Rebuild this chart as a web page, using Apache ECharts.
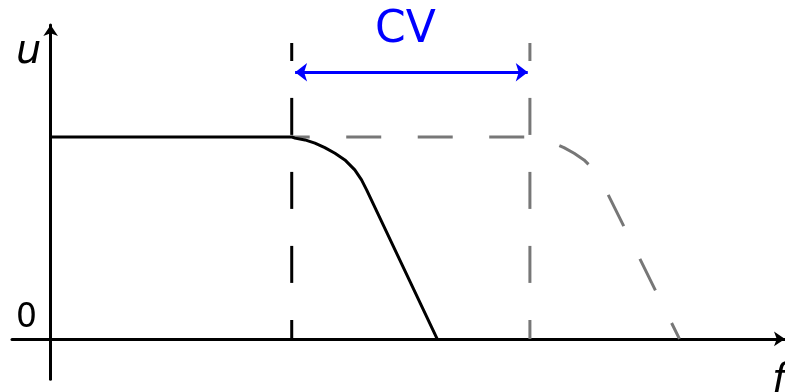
<!DOCTYPE html>
<html>
<head>
<meta charset="utf-8">
<script src="https://cdn.jsdelivr.net/npm/echarts@6/dist/echarts.min.js"></script>
<style>
  html, body { margin: 0; padding: 0; background: #fff; }
  #chart { width: 785px; height: 392px; }
</style>
</head>
<body>
<div id="chart"></div>
<script>
  // 原始曲线 (黑色实线)
  var curveF = [0, 0.998, 1.011, 1.053, 1.094, 1.135, 1.177, 1.218, 1.259, 1.287, 1.308, 1.6]
  var curveU = [1, 1, 0.994, 0.985, 0.969, 0.947, 0.919, 0.886, 0.837, 0.787, 0.738, 0]
  // 平移后的曲线 (灰色虚线)
  var shiftF = [0.998, 1.988, 2.001, 2.043, 2.084, 2.125, 2.167, 2.208, 2.249, 2.277, 2.298, 2.603]
  var shiftU = [1, 1, 0.994, 0.985, 0.969, 0.947, 0.919, 0.886, 0.837, 0.787, 0.738, 0]
  // 竖直虚线位置 和 CV 箭头
  var guideF = [0.998, 1.984]
  var guideTop = 1.465
  var cvFrom = 1.012
  var cvTo = 1.975
  var cvLevel = 1.32

  function pairs (xs, ys) {
    return xs.map(function (x, i) { return [x, ys[i]] })
  }

  var chart = echarts.init(document.getElementById('chart'))
  var font = '"DejaVu Sans", sans-serif'

  chart.setOption({
    animation: false,
    grid: { left: 12, top: 25, width: 773, height: 354.3 },
    xAxis: {
      type: 'value', min: -0.16, max: 3.04,
      axisLine: { onZero: true, symbol: ['none', 'arrow'], symbolSize: [11, 11],
        lineStyle: { color: '#000', width: 3 } },
      axisTick: { show: false }, axisLabel: { show: false }, splitLine: { show: false }
    },
    yAxis: {
      type: 'value', min: -0.2, max: 1.554,
      axisLine: { onZero: true, symbol: ['none', 'arrow'], symbolSize: [11, 11],
        lineStyle: { color: '#000', width: 3 } },
      axisTick: { show: false }, axisLabel: { show: false }, splitLine: { show: false }
    },
    graphic: [
      { type: 'text', left: 16, top: 33, style: { text: 'u', font: 'italic 40px ' + font, fill: '#000' } },
      { type: 'text', left: 16, top: 302, style: { text: '0', font: '33px ' + font, fill: '#000' } },
      { type: 'text', left: 772, top: 362, style: { text: 'f', font: 'italic 40px ' + font, fill: '#000' } }
    ],
    series: [
      {
        type: 'line', data: pairs(shiftF, shiftU), symbol: 'none', silent: true,
        lineStyle: { color: '#777', width: 3, type: [35, 36.5], dashOffset: 17 },
        markLine: {
          silent: true, symbol: ['arrow', 'arrow'], symbolSize: [14, 12],
          lineStyle: { color: '#0000ff', width: 3, type: 'solid' },
          label: { show: true, position: 'middle', formatter: 'CV', color: '#0000ff',
            fontSize: 44, fontFamily: font, distance: 20, padding: [0, 12, 0, 0] },
          data: [[{ coord: [cvFrom, cvLevel] }, { coord: [cvTo, cvLevel] }]]
        }
      },
      {
        type: 'line', data: [[guideF[0], 0], [guideF[0], guideTop]], symbol: 'none', silent: true,
        lineStyle: { color: '#000', width: 3, type: [37, 37], dashOffset: 18 }
      },
      {
        type: 'line', data: [[guideF[1], 0], [guideF[1], guideTop]], symbol: 'none', silent: true,
        lineStyle: { color: '#777', width: 3, type: [37, 37], dashOffset: 18 }
      },
      {
        type: 'line', data: pairs(curveF, curveU), symbol: 'none', silent: true,
        lineStyle: { color: '#000', width: 3, join: 'round' }
      }
    ]
  })
</script>
</body>
</html>
